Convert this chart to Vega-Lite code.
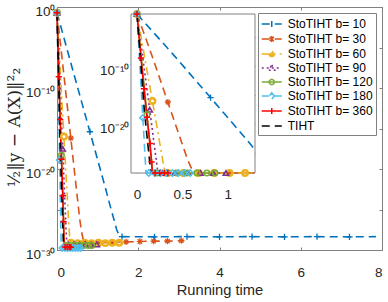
{
"$schema": "https://vega.github.io/schema/vega-lite/v6.json",
"width": 325, "height": 243,
"autosize": "none",
"padding": {"left": 57, "top": 7, "right": 6, "bottom": 52},
"config": {
  "font": "Liberation Sans",
  "view": {"stroke": "#808080", "strokeWidth": 1},
  "axis": {"grid": false, "domain": false, "labelFont": "Liberation Sans", "labelFontSize": 13.5, "labelColor": "#262626", "tickColor": "#808080", "tickSize": -3, "labelPadding": 5, "zindex": 1, "titleFont": "Liberation Sans", "titleFontWeight": "normal", "titleColor": "#262626"},
  "legend": {"orient": "top-right", "offset": 6, "padding": 3, "strokeColor": "#808080", "fillColor": "white", "labelFontSize": 12, "labelColor": "black", "labelFont": "Liberation Sans", "symbolSize": 196, "symbolStrokeWidth": 1.5, "rowPadding": -1.9, "symbolOffset": 2.75, "labelOffset": 8, "labelLimit": 200}
},
"datasets": {
"lines": [
{"s":"StoTIHT b= 10","t":0,"y":0.2},{"s":"StoTIHT b= 10","t":0.4,"y":1e-8},{"s":"StoTIHT b= 10","t":0.81,"y":3.98e-16},{"s":"StoTIHT b= 10","t":1.2,"y":3.16e-23},{"s":"StoTIHT b= 10","t":1.3,"y":3.98e-25},{"s":"StoTIHT b= 10","t":1.4,"y":6.31e-27},{"s":"StoTIHT b= 10","t":1.47,"y":3.16e-28},{"s":"StoTIHT b= 10","t":1.52,"y":7.94e-29},{"s":"StoTIHT b= 10","t":1.6,"y":4.47e-29},{"s":"StoTIHT b= 10","t":2.4,"y":4.2e-29},{"s":"StoTIHT b= 10","t":3.2,"y":4.47e-29},{"s":"StoTIHT b= 10","t":4.0,"y":4.2e-29},{"s":"StoTIHT b= 10","t":4.8,"y":4.47e-29},{"s":"StoTIHT b= 10","t":5.6,"y":4.2e-29},{"s":"StoTIHT b= 10","t":6.4,"y":4.47e-29},{"s":"StoTIHT b= 10","t":7.2,"y":4.2e-29},{"s":"StoTIHT b= 10","t":7.85,"y":4.47e-29},
{"s":"StoTIHT b= 30","t":0,"y":0.2},{"s":"StoTIHT b= 30","t":0.17,"y":3.98e-9},{"s":"StoTIHT b= 30","t":0.34,"y":6.31e-17},{"s":"StoTIHT b= 30","t":0.5,"y":3.16e-24},{"s":"StoTIHT b= 30","t":0.56,"y":6.31e-27},{"s":"StoTIHT b= 30","t":0.6,"y":2.51e-28},{"s":"StoTIHT b= 30","t":0.64,"y":2.51e-29},{"s":"StoTIHT b= 30","t":0.68,"y":7.94e-30},{"s":"StoTIHT b= 30","t":1.02,"y":8.91e-30},{"s":"StoTIHT b= 30","t":1.36,"y":8.91e-30},{"s":"StoTIHT b= 30","t":1.7,"y":1e-29},{"s":"StoTIHT b= 30","t":2.04,"y":1.12e-29},{"s":"StoTIHT b= 30","t":2.38,"y":1.26e-29},{"s":"StoTIHT b= 30","t":2.72,"y":1.26e-29},{"s":"StoTIHT b= 30","t":3.06,"y":1.41e-29},{"s":"StoTIHT b= 30","t":3.12,"y":1.41e-29},
{"s":"StoTIHT b= 60","t":0,"y":0.2},{"s":"StoTIHT b= 60","t":0.17,"y":1e-16},{"s":"StoTIHT b= 60","t":0.25,"y":6.31e-24},{"s":"StoTIHT b= 60","t":0.29,"y":1.58e-27},{"s":"StoTIHT b= 60","t":0.31,"y":5.01e-29},{"s":"StoTIHT b= 60","t":0.34,"y":7.94e-30},{"s":"StoTIHT b= 60","t":0.51,"y":7.08e-30},{"s":"StoTIHT b= 60","t":0.68,"y":7.94e-30},{"s":"StoTIHT b= 60","t":0.85,"y":7.08e-30},{"s":"StoTIHT b= 60","t":1.02,"y":7.94e-30},{"s":"StoTIHT b= 60","t":1.19,"y":7.08e-30},{"s":"StoTIHT b= 60","t":1.36,"y":7.94e-30},{"s":"StoTIHT b= 60","t":1.53,"y":7.94e-30},{"s":"StoTIHT b= 60","t":1.6,"y":7.94e-30},
{"s":"StoTIHT b= 90","t":0,"y":0.2},{"s":"StoTIHT b= 90","t":0.14,"y":3.16e-18},{"s":"StoTIHT b= 90","t":0.2,"y":2e-25},{"s":"StoTIHT b= 90","t":0.225,"y":2e-28},{"s":"StoTIHT b= 90","t":0.24,"y":1e-29},{"s":"StoTIHT b= 90","t":0.26,"y":4.47e-30},{"s":"StoTIHT b= 90","t":0.42,"y":5.01e-30},{"s":"StoTIHT b= 90","t":0.56,"y":4.47e-30},{"s":"StoTIHT b= 90","t":0.7,"y":5.01e-30},{"s":"StoTIHT b= 90","t":0.84,"y":4.47e-30},{"s":"StoTIHT b= 90","t":0.98,"y":5.01e-30},{"s":"StoTIHT b= 90","t":1.06,"y":4.47e-30},
{"s":"StoTIHT b= 120","t":0,"y":0.2},{"s":"StoTIHT b= 120","t":0.11,"y":5.01e-19},{"s":"StoTIHT b= 120","t":0.15,"y":2e-25},{"s":"StoTIHT b= 120","t":0.17,"y":1.26e-28},{"s":"StoTIHT b= 120","t":0.185,"y":3.98e-30},{"s":"StoTIHT b= 120","t":0.33,"y":3.55e-30},{"s":"StoTIHT b= 120","t":0.55,"y":3.98e-30},{"s":"StoTIHT b= 120","t":0.77,"y":3.55e-30},{"s":"StoTIHT b= 120","t":0.86,"y":3.55e-30},
{"s":"StoTIHT b= 180","t":0,"y":0.2},{"s":"StoTIHT b= 180","t":0.065,"y":1.26e-19},{"s":"StoTIHT b= 180","t":0.09,"y":1.26e-26},{"s":"StoTIHT b= 180","t":0.1,"y":2e-29},{"s":"StoTIHT b= 180","t":0.11,"y":2e-30},{"s":"StoTIHT b= 180","t":0.26,"y":1.78e-30},{"s":"StoTIHT b= 180","t":0.45,"y":1.78e-30},{"s":"StoTIHT b= 180","t":0.62,"y":1.78e-30},
{"s":"StoTIHT b= 360","t":0,"y":0.2},{"s":"StoTIHT b= 360","t":0.044,"y":2.51e-9},{"s":"StoTIHT b= 360","t":0.077,"y":1.26e-14},{"s":"StoTIHT b= 360","t":0.11,"y":1.58e-19},{"s":"StoTIHT b= 360","t":0.143,"y":5.01e-24},{"s":"StoTIHT b= 360","t":0.16,"y":3.16e-27},{"s":"StoTIHT b= 360","t":0.17,"y":3.16e-29},{"s":"StoTIHT b= 360","t":0.18,"y":2.51e-30},{"s":"StoTIHT b= 360","t":0.34,"y":2.24e-30},
{"s":"TIHT","t":0,"y":0.2},{"s":"TIHT","t":0.04,"y":1e-9},{"s":"TIHT","t":0.08,"y":3.16e-18},{"s":"TIHT","t":0.12,"y":3.16e-24},{"s":"TIHT","t":0.15,"y":1e-28},{"s":"TIHT","t":0.16,"y":3.16e-30},{"s":"TIHT","t":0.33,"y":2e-30}
],
"marks": [
{"s":"StoTIHT b= 10","t":0,"y":0.2},{"s":"StoTIHT b= 10","t":0.81,"y":3.98e-16},{"s":"StoTIHT b= 10","t":1.6,"y":4.47e-29},{"s":"StoTIHT b= 10","t":2.4,"y":4.2e-29},{"s":"StoTIHT b= 10","t":3.2,"y":4.47e-29},{"s":"StoTIHT b= 10","t":4.0,"y":4.2e-29},{"s":"StoTIHT b= 10","t":4.8,"y":4.47e-29},{"s":"StoTIHT b= 10","t":5.6,"y":4.2e-29},{"s":"StoTIHT b= 10","t":6.4,"y":4.47e-29},{"s":"StoTIHT b= 10","t":7.2,"y":4.2e-29},
{"s":"StoTIHT b= 30","t":0,"y":0.2},{"s":"StoTIHT b= 30","t":0.34,"y":6.31e-17},{"s":"StoTIHT b= 30","t":0.68,"y":7.94e-30},{"s":"StoTIHT b= 30","t":1.02,"y":8.91e-30},{"s":"StoTIHT b= 30","t":1.36,"y":8.91e-30},{"s":"StoTIHT b= 30","t":1.7,"y":1e-29},{"s":"StoTIHT b= 30","t":2.04,"y":1.12e-29},{"s":"StoTIHT b= 30","t":2.38,"y":1.26e-29},{"s":"StoTIHT b= 30","t":2.72,"y":1.26e-29},{"s":"StoTIHT b= 30","t":3.06,"y":1.41e-29},
{"s":"StoTIHT b= 60","t":0,"y":0.2},{"s":"StoTIHT b= 60","t":0.17,"y":1e-16},{"s":"StoTIHT b= 60","t":0.34,"y":7.94e-30},{"s":"StoTIHT b= 60","t":0.51,"y":7.08e-30},{"s":"StoTIHT b= 60","t":0.68,"y":7.94e-30},{"s":"StoTIHT b= 60","t":0.85,"y":7.08e-30},{"s":"StoTIHT b= 60","t":1.02,"y":7.94e-30},{"s":"StoTIHT b= 60","t":1.19,"y":7.08e-30},{"s":"StoTIHT b= 60","t":1.36,"y":7.94e-30},{"s":"StoTIHT b= 60","t":1.53,"y":7.94e-30},
{"s":"StoTIHT b= 90","t":0,"y":0.2},{"s":"StoTIHT b= 90","t":0.14,"y":3.16e-18},{"s":"StoTIHT b= 90","t":0.28,"y":4.6e-30},{"s":"StoTIHT b= 90","t":0.42,"y":5.01e-30},{"s":"StoTIHT b= 90","t":0.56,"y":4.47e-30},{"s":"StoTIHT b= 90","t":0.7,"y":5.01e-30},{"s":"StoTIHT b= 90","t":0.84,"y":4.47e-30},{"s":"StoTIHT b= 90","t":0.98,"y":5.01e-30},
{"s":"StoTIHT b= 120","t":0,"y":0.2},{"s":"StoTIHT b= 120","t":0.11,"y":5.01e-19},{"s":"StoTIHT b= 120","t":0.22,"y":3.7e-30},{"s":"StoTIHT b= 120","t":0.33,"y":3.55e-30},{"s":"StoTIHT b= 120","t":0.44,"y":3.8e-30},{"s":"StoTIHT b= 120","t":0.55,"y":3.98e-30},{"s":"StoTIHT b= 120","t":0.66,"y":3.7e-30},{"s":"StoTIHT b= 120","t":0.77,"y":3.55e-30},{"s":"StoTIHT b= 120","t":0.86,"y":3.55e-30},
{"s":"StoTIHT b= 180","t":0,"y":0.2},{"s":"StoTIHT b= 180","t":0.065,"y":1.26e-19},{"s":"StoTIHT b= 180","t":0.13,"y":1.78e-30},{"s":"StoTIHT b= 180","t":0.195,"y":1.78e-30},{"s":"StoTIHT b= 180","t":0.26,"y":1.78e-30},{"s":"StoTIHT b= 180","t":0.325,"y":1.78e-30},{"s":"StoTIHT b= 180","t":0.39,"y":1.78e-30},{"s":"StoTIHT b= 180","t":0.455,"y":1.78e-30},{"s":"StoTIHT b= 180","t":0.52,"y":1.78e-30},{"s":"StoTIHT b= 180","t":0.585,"y":1.78e-30},
{"s":"StoTIHT b= 360","t":0,"y":0.2},{"s":"StoTIHT b= 360","t":0.044,"y":2.51e-9},{"s":"StoTIHT b= 360","t":0.077,"y":1.26e-14},{"s":"StoTIHT b= 360","t":0.11,"y":1.58e-19},{"s":"StoTIHT b= 360","t":0.143,"y":5.01e-24},{"s":"StoTIHT b= 360","t":0.16,"y":3.16e-27},{"s":"StoTIHT b= 360","t":0.2,"y":2.4e-30},{"s":"StoTIHT b= 360","t":0.25,"y":2.3e-30},{"s":"StoTIHT b= 360","t":0.3,"y":2.3e-30},{"s":"StoTIHT b= 360","t":0.34,"y":2.24e-30}
]
},
"layer": [
{
 "layer": [
  {"data": {"name": "lines"}, "mark": {"type": "line", "strokeWidth": 1.6},
   "encoding": {
    "x": {"field": "t", "type": "quantitative", "scale": {"domain": [0, 8], "nice": false}, "axis": {"orient": "bottom", "values": [0, 2, 4, 6, 8], "format": "d", "title": "Running time", "labelPadding": 18, "titleFontSize": 14.7, "titleY": 40, "titleBaseline": "middle"}},
    "y": {"field": "y", "type": "quantitative", "scale": {"type": "log", "domain": [1e-30, 1], "nice": false}, "axis": {"orient": "left", "values": [1, 1e-5, 1e-10, 1e-15, 1e-20, 1e-25, 1e-30], "labelOffset": 4, "labelExpr": "datum.value > 0.5 ? '10⁰' : (datum.value > 1e-11 && datum.value < 1e-9) ? '10⁻¹⁰' : (datum.value > 1e-21 && datum.value < 1e-19) ? '10⁻²⁰' : datum.value < 1e-29 ? '10⁻³⁰' : ''", "title": "½‖y − A(X)‖²₂", "titleFont": "DejaVu Serif", "titleFontSize": 17, "titleX": -43, "titleY": 120, "titleAngle": -90, "titleBaseline": "middle", "titleAlign": "center"}},
    "color": {"field": "s", "type": "nominal", "title": null, "scale": {"domain": ["StoTIHT b= 10","StoTIHT b= 30","StoTIHT b= 60","StoTIHT b= 90","StoTIHT b= 120","StoTIHT b= 180","StoTIHT b= 360","TIHT"], "range": ["#0072BD","#D95319","#EDB120","#7E2F8E","#77AC30","#4DBEEE","#FF0000","#000000"]}},
    "strokeDash": {"field": "s", "type": "nominal", "title": null, "scale": {"domain": ["StoTIHT b= 10","StoTIHT b= 30","StoTIHT b= 60","StoTIHT b= 90","StoTIHT b= 120","StoTIHT b= 180","StoTIHT b= 360","TIHT"], "range": [[8,5],[8,5],[8,4,2,4],[2,3],[1,0],[8,5],[1,0],[8,5]]}}
   }},
  {"data": {"name": "marks"}, "transform": [{"filter": "datum.s == 'StoTIHT b= 10'"}], "mark": {"type": "point", "shape": "M-1,0H1M0,-1V1", "size": 40, "strokeWidth": 1.3, "filled": false, "opacity": 1},
   "encoding": {"x": {"field": "t", "type": "quantitative", "axis": null}, "y": {"field": "y", "type": "quantitative", "axis": null}, "color": {"field": "s", "type": "nominal", "title": null}}},
  {"data": {"name": "marks"}, "transform": [{"filter": "datum.s == 'StoTIHT b= 30'"}], "mark": {"type": "point", "shape": "M-1,0H1M0,-1V1M-0.7,-0.7L0.7,0.7M-0.7,0.7L0.7,-0.7", "size": 40, "strokeWidth": 1.2, "filled": false, "opacity": 1},
   "encoding": {"x": {"field": "t", "type": "quantitative", "axis": null}, "y": {"field": "y", "type": "quantitative", "axis": null}, "color": {"field": "s", "type": "nominal", "title": null}}},
  {"data": {"name": "marks"}, "transform": [{"filter": "datum.s == 'StoTIHT b= 60'"}], "mark": {"type": "point", "shape": "circle", "size": 30, "filled": false, "strokeWidth": 2.5, "opacity": 1},
   "encoding": {"x": {"field": "t", "type": "quantitative", "axis": null}, "y": {"field": "y", "type": "quantitative", "axis": null}, "color": {"field": "s", "type": "nominal", "title": null}}},
  {"data": {"name": "marks"}, "transform": [{"filter": "datum.s == 'StoTIHT b= 90'"}], "mark": {"type": "point", "shape": "triangle-up", "size": 30, "strokeWidth": 1.5, "filled": false, "opacity": 1},
   "encoding": {"x": {"field": "t", "type": "quantitative", "axis": null}, "y": {"field": "y", "type": "quantitative", "axis": null}, "color": {"field": "s", "type": "nominal", "title": null}}},
  {"data": {"name": "marks"}, "transform": [{"filter": "datum.s == 'StoTIHT b= 120'"}], "mark": {"type": "point", "shape": "circle", "size": 30, "strokeWidth": 1.5, "filled": false, "opacity": 1},
   "encoding": {"x": {"field": "t", "type": "quantitative", "axis": null}, "y": {"field": "y", "type": "quantitative", "axis": null}, "color": {"field": "s", "type": "nominal", "title": null}}},
  {"data": {"name": "marks"}, "transform": [{"filter": "datum.s == 'StoTIHT b= 180'"}], "mark": {"type": "point", "shape": "diamond", "size": 40, "strokeWidth": 1.5, "filled": false, "opacity": 1},
   "encoding": {"x": {"field": "t", "type": "quantitative", "axis": null}, "y": {"field": "y", "type": "quantitative", "axis": null}, "color": {"field": "s", "type": "nominal", "title": null}}},
  {"data": {"name": "marks"}, "transform": [{"filter": "datum.s == 'StoTIHT b= 360'"}], "mark": {"type": "point", "shape": "M-1,0H1M0,-1V1", "size": 40, "strokeWidth": 1.5, "filled": false, "opacity": 1},
   "encoding": {"x": {"field": "t", "type": "quantitative", "axis": null}, "y": {"field": "y", "type": "quantitative", "axis": null}, "color": {"field": "s", "type": "nominal", "title": null}}},
  {"data": {"name": "marks"}, "transform": [{"filter": "false"}], "mark": {"type": "point", "filled": false, "opacity": 1},
   "encoding": {
    "x": {"field": "t", "type": "quantitative", "axis": {"orient": "top", "values": [0, 2, 4, 6, 8], "labels": false, "title": null}},
    "y": {"field": "y", "type": "quantitative", "axis": {"orient": "right", "values": [1, 1e-5, 1e-10, 1e-15, 1e-20, 1e-25, 1e-30], "labels": false, "title": null}},
    "color": {"field": "s", "type": "nominal", "title": null},
    "shape": {"field": "s", "type": "nominal", "title": null, "scale": {"domain": ["StoTIHT b= 10","StoTIHT b= 30","StoTIHT b= 60","StoTIHT b= 90","StoTIHT b= 120","StoTIHT b= 180","StoTIHT b= 360","TIHT"], "range": ["M-1.43,0H1.43M0,-0.43V0.43", "M-1.43,0H1.43M0,-0.43V0.43M-0.3,-0.3L0.3,0.3M-0.3,0.3L0.3,-0.3", "M-1.43,0H1.43M0.36,0A0.36,0.36,0,1,1,-0.36,0A0.36,0.36,0,1,1,0.36,0M0.15,0A0.15,0.15,0,1,1,-0.15,0A0.15,0.15,0,1,1,0.15,0", "M-1.43,0H1.43M0,-0.43L0.43,0.31H-0.43Z", "M-1.43,0H1.43M0.36,0A0.36,0.36,0,1,1,-0.36,0A0.36,0.36,0,1,1,0.36,0", "M-1.43,0H-0.36M0.36,0H1.43M0,-0.46L0.36,0L0,0.46L-0.36,0Z", "M-1.43,0H1.43M0,-0.43V0.43", "M-1.43,0H1.43"]}},
    "strokeDash": {"field": "s", "type": "nominal", "title": null}
   }}
 ],
 "resolve": {"axis": {"x": "independent", "y": "independent"}}
},
{
 "layer": [
  {"data": {"values": [{}]}, "mark": {"type": "rect", "fill": "white", "stroke": "#808080", "strokeWidth": 1},
   "encoding": {
    "x": {"datum": -0.066, "type": "quantitative", "scale": {"domain": [-0.066, 1.3], "nice": false, "zero": false, "range": [74, 198], "clamp": true}, "axis": {"orient": "top", "offset": -7, "values": [0, 0.5, 1], "labels": false, "title": null}},
    "x2": {"datum": 1.3},
    "y": {"datum": 3.98e-29, "type": "quantitative", "scale": {"type": "log", "domain": [3.98e-29, 0.1], "nice": false, "range": [166, 7], "clamp": true}, "axis": {"orient": "right", "offset": -127, "values": [1e-5, 1e-10, 1e-15, 1e-20, 1e-25], "labels": false, "title": null}},
    "y2": {"datum": 0.1}
   }},
  {"data": {"name": "lines"}, "transform": [{"filter": "datum.t <= 1.3 || datum.y < 3e-29"}], "mark": {"type": "line", "strokeWidth": 1.6},
   "encoding": {
    "x": {"field": "t", "type": "quantitative", "axis": {"orient": "bottom", "offset": -77, "values": [0, 0.5, 1], "format": "~g", "title": null, "labelPadding": 17}},
    "y": {"field": "y", "type": "quantitative", "axis": {"orient": "left", "offset": -74, "values": [1e-5, 1e-10, 1e-15, 1e-20, 1e-25], "labelOffset": 4, "labelExpr": "(datum.value > 1e-11 && datum.value < 1e-9) ? '10⁻¹⁰' : (datum.value > 1e-21 && datum.value < 1e-19) ? '10⁻²⁰' : ''", "title": null}},
    "color": {"field": "s", "type": "nominal", "title": null},
    "strokeDash": {"field": "s", "type": "nominal", "title": null}
   }},
  {"data": {"name": "marks"}, "transform": [{"filter": "datum.s == 'StoTIHT b= 10' && datum.t <= 1.3"}], "mark": {"type": "point", "shape": "M-1,0H1M0,-1V1", "size": 40, "strokeWidth": 1.3, "filled": false, "opacity": 1},
   "encoding": {"x": {"field": "t", "type": "quantitative", "axis": null}, "y": {"field": "y", "type": "quantitative", "axis": null}, "color": {"field": "s", "type": "nominal", "title": null}}},
  {"data": {"name": "marks"}, "transform": [{"filter": "datum.s == 'StoTIHT b= 30' && datum.t <= 1.3"}], "mark": {"type": "point", "shape": "M-1,0H1M0,-1V1M-0.7,-0.7L0.7,0.7M-0.7,0.7L0.7,-0.7", "size": 40, "strokeWidth": 1.2, "filled": false, "opacity": 1},
   "encoding": {"x": {"field": "t", "type": "quantitative", "axis": null}, "y": {"field": "y", "type": "quantitative", "axis": null}, "color": {"field": "s", "type": "nominal", "title": null}}},
  {"data": {"name": "marks"}, "transform": [{"filter": "datum.s == 'StoTIHT b= 60' && datum.t <= 1.3"}], "mark": {"type": "point", "shape": "circle", "size": 30, "filled": false, "strokeWidth": 2.5, "opacity": 1},
   "encoding": {"x": {"field": "t", "type": "quantitative", "axis": null}, "y": {"field": "y", "type": "quantitative", "axis": null}, "color": {"field": "s", "type": "nominal", "title": null}}},
  {"data": {"name": "marks"}, "transform": [{"filter": "datum.s == 'StoTIHT b= 90' && datum.t <= 1.3"}], "mark": {"type": "point", "shape": "triangle-up", "size": 30, "strokeWidth": 1.5, "filled": false, "opacity": 1},
   "encoding": {"x": {"field": "t", "type": "quantitative", "axis": null}, "y": {"field": "y", "type": "quantitative", "axis": null}, "color": {"field": "s", "type": "nominal", "title": null}}},
  {"data": {"name": "marks"}, "transform": [{"filter": "datum.s == 'StoTIHT b= 120' && datum.t <= 1.3"}], "mark": {"type": "point", "shape": "circle", "size": 30, "strokeWidth": 1.5, "filled": false, "opacity": 1},
   "encoding": {"x": {"field": "t", "type": "quantitative", "axis": null}, "y": {"field": "y", "type": "quantitative", "axis": null}, "color": {"field": "s", "type": "nominal", "title": null}}},
  {"data": {"name": "marks"}, "transform": [{"filter": "datum.s == 'StoTIHT b= 180' && datum.t <= 1.3"}], "mark": {"type": "point", "shape": "diamond", "size": 40, "strokeWidth": 1.5, "filled": false, "opacity": 1},
   "encoding": {"x": {"field": "t", "type": "quantitative", "axis": null}, "y": {"field": "y", "type": "quantitative", "axis": null}, "color": {"field": "s", "type": "nominal", "title": null}}},
  {"data": {"name": "marks"}, "transform": [{"filter": "datum.s == 'StoTIHT b= 360' && datum.t <= 1.3"}], "mark": {"type": "point", "shape": "M-1,0H1M0,-1V1", "size": 40, "strokeWidth": 1.5, "filled": false, "opacity": 1},
   "encoding": {"x": {"field": "t", "type": "quantitative", "axis": null}, "y": {"field": "y", "type": "quantitative", "axis": null}, "color": {"field": "s", "type": "nominal", "title": null}}}
 ],
 "resolve": {"axis": {"x": "independent", "y": "independent"}}
}
],
"resolve": {"scale": {"x": "independent", "y": "independent"}}
}
